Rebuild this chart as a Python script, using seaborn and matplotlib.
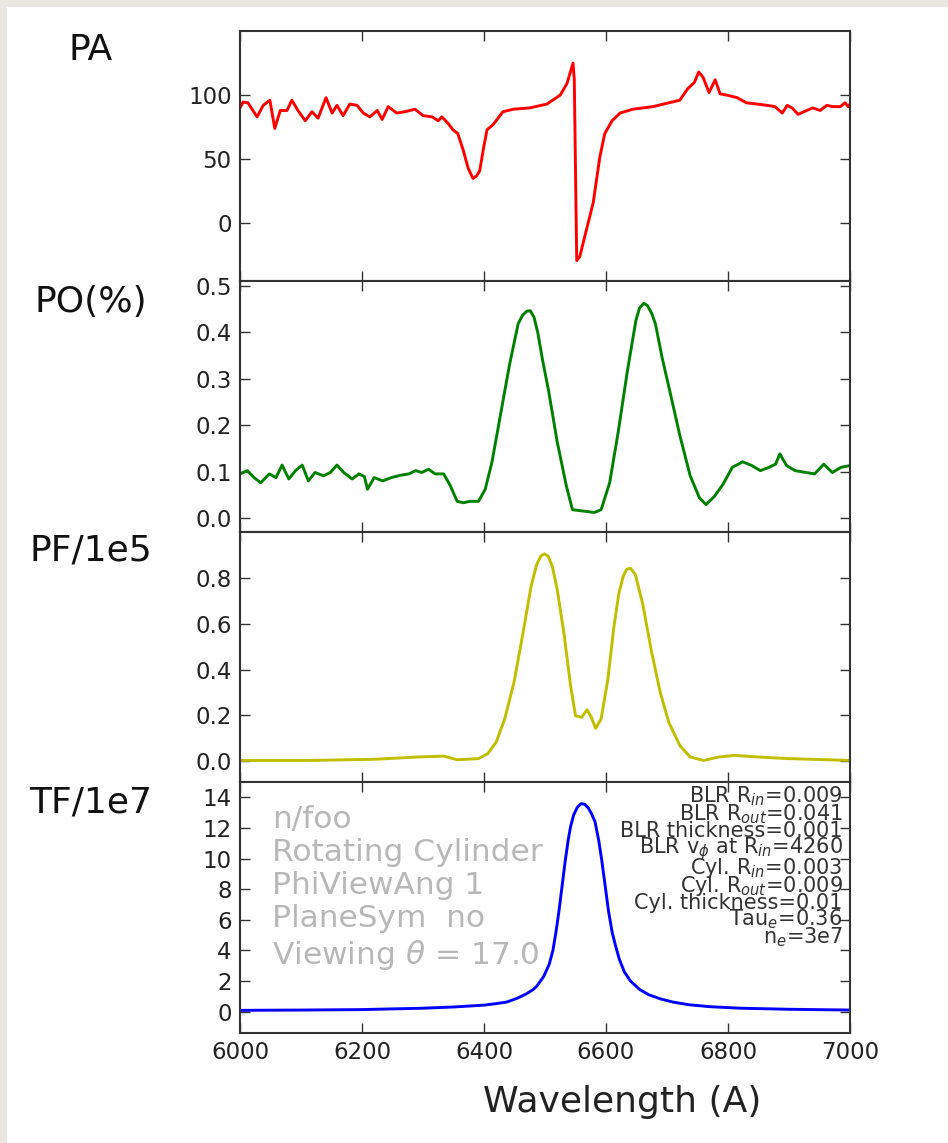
import matplotlib
matplotlib.use('Agg')
import matplotlib.pyplot as plt
from matplotlib.patches import Rectangle
import seaborn as sns

# wavelength (A) / value pairs
PA_WAVE = [6000, 6005, 6013, 6028, 6038, 6049, 6057, 6066, 6077, 6085, 6095, 6107, 6118, 6128,
           6141, 6151, 6159, 6169, 6180, 6192, 6202, 6213, 6225, 6233, 6243, 6257, 6270, 6287,
           6300, 6315, 6325, 6331, 6341, 6349, 6357, 6366, 6374, 6382, 6388, 6393, 6399, 6405,
           6415, 6431, 6448, 6475, 6503, 6525, 6536, 6546, 6548, 6552, 6557, 6569, 6579, 6590,
           6598, 6610, 6623, 6644, 6677, 6703, 6721, 6734, 6745, 6752, 6759, 6769, 6779, 6787,
           6798, 6815, 6830, 6848, 6864, 6877, 6889, 6897, 6905, 6915, 6929, 6939, 6951, 6962,
           6972, 6984, 6992, 6997, 7000]
PA_VAL = [90, 94.5, 94, 83, 92, 96, 74, 88, 88, 96, 88, 80, 87, 82,
          98, 86, 92, 84, 93, 92, 86, 83, 88, 81, 91, 86, 87, 89,
          84, 83, 80, 83, 78, 73, 70, 57, 43, 35, 37, 41, 58, 73,
          77, 87, 89, 90, 93, 100, 109, 125, 112, -29, -26, -3, 16, 52,
          70, 80, 86, 89, 91, 94, 96, 105, 110, 118, 114, 102, 112, 101,
          100, 98, 94, 93, 92, 91, 86, 92, 90, 85, 88, 90, 88, 92,
          91, 91, 94, 91, 93]

PO_WAVE = [6000, 6012, 6023, 6034, 6048, 6059, 6069, 6080, 6091, 6102, 6112, 6123, 6137, 6148,
           6159, 6170, 6184, 6195, 6204, 6209, 6220, 6234, 6248, 6263, 6277, 6288, 6298, 6309,
           6320, 6334, 6345, 6356, 6366, 6377, 6391, 6402, 6413, 6427, 6442, 6456, 6463, 6470,
           6476, 6482, 6488, 6496, 6506, 6520, 6535, 6545, 6563, 6581, 6592, 6606, 6620, 6635,
           6649, 6655, 6662, 6668, 6675, 6681, 6692, 6706, 6721, 6738, 6753, 6764, 6778, 6792,
           6807, 6824, 6839, 6853, 6867, 6878, 6885, 6896, 6910, 6928, 6942, 6957, 6971, 6985,
           7000]
PO_VAL = [0.095, 0.102, 0.087, 0.076, 0.095, 0.087, 0.114, 0.084, 0.102, 0.114, 0.080, 0.098,
          0.091, 0.098, 0.114, 0.098, 0.084, 0.095, 0.089, 0.062, 0.087, 0.080, 0.087, 0.092,
          0.095, 0.102, 0.098, 0.105, 0.095, 0.095, 0.069, 0.036, 0.033, 0.036, 0.036, 0.062,
          0.120, 0.222, 0.331, 0.418, 0.436, 0.445, 0.446, 0.432, 0.400, 0.340, 0.273, 0.164,
          0.069, 0.018, 0.015, 0.012, 0.018, 0.076, 0.185, 0.316, 0.425, 0.452, 0.462, 0.457,
          0.440, 0.418, 0.345, 0.265, 0.178, 0.091, 0.044, 0.029, 0.047, 0.073, 0.109, 0.121,
          0.113, 0.102, 0.109, 0.116, 0.138, 0.113, 0.102, 0.098, 0.095, 0.116, 0.098, 0.109,
          0.113]

PF_WAVE = [6000, 6112, 6220, 6291, 6334, 6356, 6391, 6406, 6420, 6434, 6449, 6463, 6477, 6486,
           6493, 6499, 6505, 6512, 6520, 6531, 6542, 6550, 6560, 6569, 6576, 6583, 6592, 6603,
           6613, 6621, 6628, 6634, 6640, 6648, 6660, 6674, 6689, 6703, 6721, 6738, 6760, 6785,
           6810, 6849, 6900, 7000]
PF_VAL = [0.004, 0.004, 0.009, 0.019, 0.023, 0.007, 0.012, 0.033, 0.084, 0.185, 0.343, 0.545,
          0.761, 0.855, 0.895, 0.905, 0.895, 0.850, 0.750, 0.559, 0.329, 0.199, 0.192, 0.225,
          0.192, 0.144, 0.185, 0.357, 0.588, 0.730, 0.805, 0.838, 0.842, 0.815, 0.689, 0.487,
          0.300, 0.170, 0.069, 0.019, 0.004, 0.019, 0.026, 0.019, 0.012, 0.004]

TF_WAVE = [6000, 6100, 6200, 6300, 6350, 6400, 6420, 6437, 6455, 6470, 6481, 6487, 6498, 6507,
           6513, 6518, 6523, 6528, 6533, 6538, 6542, 6547, 6553, 6559, 6565, 6571, 6576, 6582,
           6588, 6593, 6598, 6604, 6610, 6615, 6622, 6630, 6640, 6655, 6670, 6690, 6710, 6735,
           6770, 6820, 6900, 7000]
TF_VAL = [0.08, 0.10, 0.13, 0.22, 0.30, 0.42, 0.52, 0.62, 0.88, 1.17, 1.45, 1.68, 2.30, 3.10,
          4.00, 5.20, 6.60, 8.20, 9.80, 11.20, 12.10, 12.85, 13.35, 13.58, 13.55, 13.30, 12.95, 12.40,
          11.20, 9.90, 8.40, 6.60, 5.20, 4.40, 3.40, 2.60, 2.00, 1.45, 1.10, 0.82, 0.62, 0.45,
          0.32, 0.22, 0.15, 0.10]

PANEL_NAMES = ['PA', 'PO(%)', 'PF/1e5', 'TF/1e7']
X_TICKS = [6000, 6200, 6400, 6600, 6800, 7000]

INFO_TEXT = 'n/foo\nRotating Cylinder\nPhiViewAng 1\nPlaneSym  no\nViewing $\\theta$ = 17.0'
PARAM_TEXT = ('BLR R$_{in}$=0.009\nBLR R$_{out}$=0.041\nBLR thickness=0.001\n'
              'BLR v$_{\\phi}$ at R$_{in}$=4260\nCyl. R$_{in}$=0.003\nCyl. R$_{out}$=0.009\n'
              'Cyl. thickness=0.01\nTau$_{e}$=0.36\nn$_{e}$=3e7')

W, H = 948, 1143


def px_axes(fig, top, bottom, left=240, right=850):
    return fig.add_axes([left / W, 1 - bottom / H, (right - left) / W, (bottom - top) / H])


def style_axes(ax, show_x):
    ax.set_xlim(6000, 7000)
    ax.set_xticks(X_TICKS)
    ax.tick_params(direction='in', length=7, width=1, top=True, right=True,
                   labelsize=16.5, labelcolor='#222222', color='#333333', pad=6)
    if not show_x:
        ax.tick_params(labelbottom=False)
    ax.set_xlabel('')
    ax.set_ylabel('')
    for s in ax.spines.values():
        s.set_linewidth(1.5)
        s.set_color('#333333')


sns.set_style('ticks')
plt.rcParams['font.family'] = ['DejaVu Sans']

fig = plt.figure(figsize=(W / 100, H / 100), dpi=100, facecolor='#e8e8e0')
fig.add_artist(Rectangle((7 / W, 0), 1, 1 - 7 / H, transform=fig.transFigure,
                         facecolor='white', edgecolor='none', zorder=-1))

bounds = [(31, 281), (281, 532), (532, 782), (782, 1033)]
series = [(PA_WAVE, PA_VAL, 'r'), (PO_WAVE, PO_VAL, 'g'),
          (PF_WAVE, PF_VAL, '#bfbf00'), (TF_WAVE, TF_VAL, 'b')]
axes = []
for i, ((top, bottom), (xs, ys, col)) in enumerate(zip(bounds, series)):
    ax = px_axes(fig, top, bottom)
    sns.lineplot(x=xs, y=ys, ax=ax, color=col, linewidth=2.1)
    style_axes(ax, show_x=(i == 3))
    axes.append(ax)

axes[0].set_ylim(-45, 150)
axes[0].set_yticks([0, 50, 100])
axes[1].set_ylim(-0.03, 0.51)
axes[1].set_yticks([0.0, 0.1, 0.2, 0.3, 0.4, 0.5])
axes[1].set_yticklabels(['0.0', '0.1', '0.2', '0.3', '0.4', '0.5'])
axes[2].set_ylim(-0.09, 1.0)
axes[2].set_yticks([0.0, 0.2, 0.4, 0.6, 0.8])
axes[2].set_yticklabels(['0.0', '0.2', '0.4', '0.6', '0.8'])
axes[3].set_ylim(-1.4, 15)
axes[3].set_yticks(list(range(0, 15, 2)))

# panel names on the left
for name, yc in zip(PANEL_NAMES, [50, 302, 550, 802]):
    fig.text(91 / W, 1 - yc / H, name, ha='center', va='center', fontsize=26, color='#111111')

axes[3].text(0.052, 0.91, INFO_TEXT, transform=axes[3].transAxes, ha='left', va='top',
             fontsize=22.5, color='#b8b8b8', linespacing=1.18)
axes[3].text(0.988, 0.99, PARAM_TEXT, transform=axes[3].transAxes, ha='right', va='top',
             multialignment='right', fontsize=15, color='#333333', linespacing=0.68)

fig.text(622 / W, 1 - 1102 / H, 'Wavelength (A)', ha='center', va='center',
         fontsize=26, color='#222222')

fig.savefig('out.png', dpi=100)
